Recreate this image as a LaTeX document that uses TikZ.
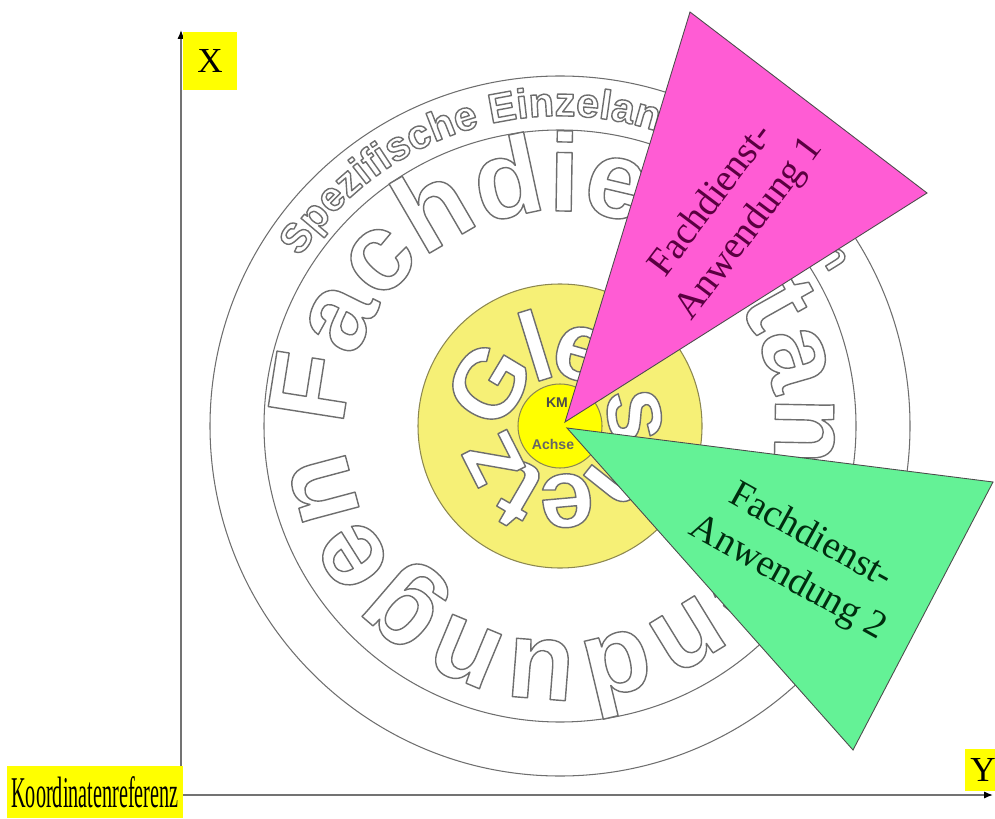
\documentclass[tikz,border=0pt]{standalone}
\usepackage{fontspec}
\setmainfont{Liberation Serif}
\newfontfamily\ringsans{Liberation Sans}
\usepackage{graphicx}
\usepackage{tikz}
\usetikzlibrary{arrows.meta, decorations.text}

\definecolor{fachpink}{RGB}{255,92,212}
\definecolor{fachgreen}{RGB}{100,242,150}
\definecolor{netzyellow}{RGB}{246,240,118}
\definecolor{achsyellow}{RGB}{255,255,0}
\definecolor{tagyellow}{RGB}{255,255,0}
\definecolor{ringgray}{RGB}{110,110,110}
\definecolor{olivegray}{RGB}{140,135,80}

\newcommand{\fachfont}{\ringsans\bfseries\fontsize{63}{63}\selectfont}
\newcommand{\netzfont}{\ringsans\bfseries\fontsize{56}{56}\selectfont}
\newcommand{\einzelfont}{\ringsans\bfseries\fontsize{23.5}{24}\selectfont}
% white letters with a grey stroke round them (fill, then stroke)
\newcommand{\hollow}{\special{pdf:literal direct 0.43 0.43 0.43 RG 0.8 w 1 j 2 Tr}}

% lettering along a circle: font, words, radius, start, sweep, raise
\newcommand{\ringtext}[6]{%
  \begin{scope}
    \path[decorate, decoration={text along path, raise=#6,
        text color=white, text={|#1\hollow|#2}}]
      (#4:#3) arc[start angle=#4, delta angle=#5, radius=#3];
    \special{pdf:literal direct 0 Tr}
  \end{scope}
}

\begin{document}
\begin{tikzpicture}[
  ring/.style={draw=ringgray, line width=0.6pt},
  axisline/.style={draw=black!55, line width=0.8pt,
                   -{Latex[length=5pt, width=4pt, color=black]}},
  tag/.style={fill=tagyellow, inner sep=0pt, font=\fontsize{20}{20}\selectfont},
  fach/.style={draw=black!70, line width=0.5pt},
  fachlabel/.style={align=center, font=\fontsize{22}{27}\selectfont}
]
  \useasboundingbox (0,0) rectangle (19.9,16.36);

  % Axes
  \coordinate (orig) at (3.62,0.46);
  \coordinate (xtip) at (3.62,15.76);
  \coordinate (ytip) at (19.86,0.46);
  \draw[axisline] (orig) -- (xtip);
  \draw[axisline] (orig) -- (ytip);

  % Rings around the centre
  \begin{scope}[shift={(11.2,7.84)}]
    \draw[ring] (0,0) circle (7.0);
    \draw[ring] (0,0) circle (5.92);
    \ringtext{\einzelfont}{Spezifische Einzelanwendungen}{6.2}{147}{-125}{0pt}
    \ringtext{\fachfont}{Fachdienstanwendungen}{4.3}{180}{-360}{0pt}

    \filldraw[fill=netzyellow, draw=olivegray, line width=0.6pt] (0,0) circle (2.84);
    \ringtext{\netzfont}{Gleisnetz}{1.42}{180}{-360}{-0.44cm}

    \filldraw[fill=achsyellow, draw=olivegray, line width=0.6pt] (0,0) circle (0.84);
    \node[font=\ringsans\bfseries\fontsize{8}{8}\selectfont, text=black!70]
      (km) at (-0.06,0.46) {KM};
    \node[font=\ringsans\bfseries\fontsize{8}{8}\selectfont, text=black!60]
      (achse) at (-0.14,-0.36) {Achse};
  \end{scope}

  % Fachdienst wedges
  \coordinate (apexA) at (11.3,7.92);
  \coordinate (topA) at (13.8,16.12);
  \coordinate (rightA) at (18.54,12.5);
  \coordinate (apexB) at (11.34,7.8);
  \coordinate (rightB) at (19.86,6.72);
  \coordinate (lowB) at (17.06,1.36);
  \draw[fach, fill=fachpink] (apexA) -- (topA) -- (rightA) -- cycle;
  \draw[fach, fill=fachgreen] (apexB) -- (rightB) -- (lowB) -- cycle;

  \node[fachlabel, text={rgb,255:red,90;green,0;blue,64}, rotate=53]
    (app1) at (14.62,12.06) {Fachdienst-\\Anwendung 1};
  \node[fachlabel, text={rgb,255:red,0;green,45;blue,15}, rotate=-29]
    (app2) at (15.98,5.2) {Fachdienst-\\Anwendung 2};

  % Axis tags
  \node[tag, minimum width=1.08cm, minimum height=1.16cm] (xlab) at (4.2,15.14) {X};
  \node[tag, minimum width=0.72cm, minimum height=0.84cm] (ylab) at (19.66,0.96) {Y};
  \node[tag, minimum width=3.5cm, minimum height=1.04cm,
        font=\fontsize{25}{25}\selectfont] (kref) at (1.9,0.52)
    {\scalebox{0.46}[1]{Koordinatenreferenz}};
\end{tikzpicture}
\end{document}
